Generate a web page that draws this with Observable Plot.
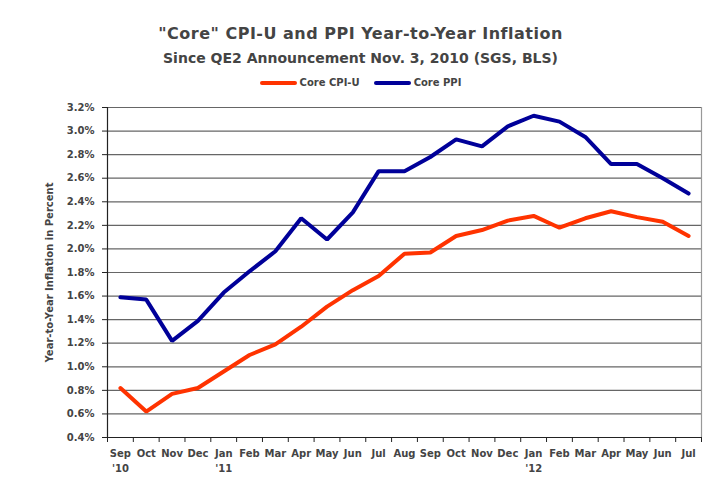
<!DOCTYPE html>
<html>
<head>
<meta charset="utf-8">
<script src="https://cdn.jsdelivr.net/npm/d3@7"></script>
<script src="https://cdn.jsdelivr.net/npm/@observablehq/plot@0.6"></script>
<style>
  body { margin: 0; background: #fff; }
  #wrap { position: relative; width: 721px; height: 480px; font-family: "DejaVu Sans", Verdana, sans-serif; color: #444; }
  .hdr { position: absolute; left: 0; width: 721px; text-align: center; font-weight: bold; white-space: nowrap; }
  #legend { position: absolute; left: 0; width: 721px; top: 78px; display: flex; justify-content: center; align-items: center; font-weight: bold; font-size: 10px; line-height: 10px; }
  .sw { display: inline-block; width: 37px; height: 4px; border-radius: 2px; margin-right: 3px; }
  #chart { position: absolute; left: 0; top: 0; }
</style>
</head>
<body>
<div id="wrap">
  <div id="chart"></div>
  <div class="hdr" style="top:26px;font-size:16px;line-height:16px;letter-spacing:0.5px;">"Core" CPI-U and PPI Year-to-Year Inflation</div>
  <div class="hdr" style="top:51px;font-size:14px;line-height:14px;">Since QE2 Announcement Nov. 3, 2010 (SGS, BLS)</div>
  <div id="legend">
    <span class="sw" style="background:#ff3300"></span><span style="margin-right:14px">Core CPI-U</span>
    <span class="sw" style="background:#000099"></span><span>Core PPI</span>
  </div>
</div>
<script>
const months = ["Sep","Oct","Nov","Dec","Jan","Feb","Mar","Apr","May","Jun","Jul","Aug","Sep","Oct","Nov","Dec","Jan","Feb","Mar","Apr","May","Jun","Jul"];
const years  = ["'10","","","","'11","","","","","","","","","","","","'12","","","","","",""];
const coreCPI = [0.82,0.62,0.77,0.82,0.96,1.10,1.19,1.34,1.51,1.65,1.77,1.96,1.97,2.11,2.16,2.24,2.28,2.18,2.26,2.32,2.27,2.23,2.11];
const corePPI = [1.59,1.57,1.22,1.39,1.63,1.81,1.98,2.26,2.08,2.31,2.66,2.66,2.78,2.93,2.87,3.04,3.13,3.08,2.95,2.72,2.72,2.60,2.47];
const yTicks = [0.4,0.6,0.8,1.0,1.2,1.4,1.6,1.8,2.0,2.2,2.4,2.6,2.8,3.0,3.2];

const idx = months.map((_, i) => i);
const bounds = d3.range(-0.5, months.length, 1);
const cpiData = coreCPI.map((v, i) => ({i, v}));
const ppiData = corePPI.map((v, i) => ({i, v}));

const chart = Plot.plot({
  width: 721,
  height: 480,
  marginTop: 107,
  marginBottom: 43,
  marginLeft: 107,
  marginRight: 20,
  style: { fontFamily: "'DejaVu Sans', Verdana, sans-serif", fontWeight: "bold", fontSize: "10px", color: "#444", background: "transparent" },
  x: { domain: [-0.5, months.length - 0.5], axis: null, label: null },
  y: { domain: [0.4, 3.2], axis: null, label: null },
  marks: [
    Plot.ruleY(yTicks.slice(1), { stroke: "#666", strokeWidth: 1.2 }),
    Plot.ruleX([months.length - 0.5], { stroke: "#999", strokeWidth: 1.2 }),
    Plot.ruleY([0.4], { stroke: "#222", strokeWidth: 1.2 }),
    Plot.ruleX([-0.5], { stroke: "#222", strokeWidth: 1.2 }),
    Plot.axisY({ ticks: yTicks, label: null, tickSize: 5, tickPadding: 8, tickFormat: d => d.toFixed(1) + "%", stroke: "#222", fill: "#444" }),
    Plot.axisX({ ticks: bounds, label: null, tickSize: 5, tickFormat: () => "", stroke: "#222" }),
    Plot.axisX({ ticks: idx, label: null, tickSize: 0, tickPadding: 12, tickFormat: i => months[i], fill: "#444" }),
    Plot.axisX({ ticks: idx, label: null, tickSize: 0, tickPadding: 27, tickFormat: i => years[i], fill: "#444" }),
    Plot.text(["Year-to-Year Inflation in Percent"], { frameAnchor: "left", textAnchor: "middle", dx: -58, rotate: -90, fill: "#444", fontSize: 10 }),
    Plot.line(cpiData, { x: "i", y: "v", stroke: "#ff3300", strokeWidth: 4, strokeLinejoin: "miter" }),
    Plot.line(ppiData, { x: "i", y: "v", stroke: "#000099", strokeWidth: 4, strokeLinejoin: "miter" })
  ]
});
document.getElementById("chart").appendChild(chart);
</script>
</body>
</html>
